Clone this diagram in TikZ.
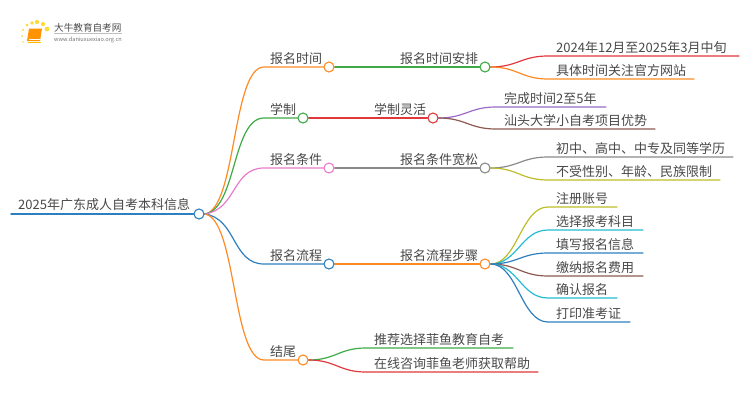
\documentclass[tikz,border=0pt]{standalone}
\usepackage{fontspec}
\usetikzlibrary{backgrounds}
\setmainfont{Noto Sans CJK SC}
\definecolor{cBlue}{HTML}{2E7FBE}
\definecolor{cOrange}{HTML}{FF8A24}
\definecolor{cGreen}{HTML}{3DAA45}
\definecolor{cRed}{HTML}{E0383C}
\definecolor{cPink}{HTML}{E87BCB}
\definecolor{cPurple}{HTML}{9A6BC8}
\definecolor{cBrown}{HTML}{8C5A52}
\definecolor{cGrey}{HTML}{8A8A8A}
\definecolor{cOlive}{HTML}{BDBD2A}
\definecolor{cCyan}{HTML}{22BCD2}
\definecolor{cText}{HTML}{484848}
\tikzset{
  dotnode/.style={circle,draw=#1,fill=white,line width=1.1pt,minimum size=10pt,inner sep=0pt},
  lab/.style={anchor=base west,inner sep=0pt,text=cText,font=\fontsize{13}{13}\selectfont},
  wire/.style={draw=#1,line width=1.2pt,line cap=round},
}
\begin{document}
\begin{tikzpicture}[x=1pt,y=-1pt]
\useasboundingbox (0,0) rectangle (750,410);
% logo
\foreach \x/\y/\s in {32/23/1.9,37/22/2.1,43/24/2.1,47/29/2.4,27/25/1.5,23/30/1.2,22/36/1,23/42/.8}
  \fill[yellow!70!orange,opacity=.8] (\x,\y) circle (\s);
\fill[orange!85!yellow] (29,28.5) -- (42,28.5) -- (40,41) -- (27,41) -- cycle;
\draw[white,line width=.5pt] (29,39) -- (39.5,39);
\draw[orange!50!yellow,line width=.6pt] (27.5,42) -- (40.5,42);
\node[anchor=base west,inner sep=0pt,text=black!70,font=\fontsize{9.6}{10}\selectfont] (logot) at (54,31) {大牛教育自考网};
\draw[black!25,line width=.4pt] (54,33.5) -- (122,33.5);
\node[anchor=base west,inner sep=0pt,text=black!55,font=\fontsize{5.6}{6}\selectfont] (logou) at (54,41) {www.daniuxuexiao.org.cn};
% root
\coordinate (rs) at (11,214);
\node[dotnode=cBlue] (root) at (199,214) {};
\node[lab] (roott) at (18,209.5) {2025年广东成人自考本科信息};
% first level
\node[dotnode=cOrange] (a1) at (329,67) {};
\node[dotnode=cGreen] (a2) at (303,118) {};
\node[dotnode=cPink] (a3) at (329,168) {};
\node[dotnode=cBlue] (a4) at (329,264) {};
\node[dotnode=cOrange] (a5) at (303,360) {};
\node[lab] at (270,63.5) {报名时间};
\node[lab] at (270,114.5) {学制};
\node[lab] at (270,164.5) {报名条件};
\node[lab] at (270,260.5) {报名流程};
\node[lab] at (270,356.5) {结尾};
% second level
\node[dotnode=cGreen] (b1) at (485,67) {};
\node[dotnode=cRed] (b2) at (433,118) {};
\node[dotnode=cGrey] (b3) at (485,168) {};
\node[dotnode=cOrange] (b4) at (485,264) {};
\node[lab] at (400,63.5) {报名时间安排};
\node[lab] at (374,114.5) {学制灵活};
\node[lab] at (400,164.5) {报名条件宽松};
\node[lab] at (400,260.5) {报名流程步骤};
% knees
\coordinate (k1) at (264,67);
\coordinate (k2) at (264,118);
\coordinate (k3) at (264,168);
\coordinate (k4) at (264,264);
\coordinate (k5) at (264,360);
% leaf ends
\foreach \n/\kx/\ex/\y in {l1/548/739/56,l2/548/694/79,l3/496/606/107,l4/496/655/129,l5/548/733/157,l6/548/720/180,
  f1/548/617/207,f2/548/643/230,f3/548/643/253,f4/548/643/276,f5/548/617/298,f6/548/630/322,e1/366/513/348,e2/366/538/372}{
  \coordinate (\n k) at (\kx,\y);
  \coordinate (\n e) at (\ex,\y);
}
\begin{scope}[on background layer]
\draw[wire=cBlue,line width=1.5pt] (rs) -- (root);
\draw[wire=cOrange] (root.east) .. controls +(32,-4) and +(-32,0) .. (k1) -- (a1);
\draw[wire=cGreen] (root.east) .. controls +(32,-4) and +(-32,0) .. (k2) -- (a2);
\draw[wire=cPink] (root.east) .. controls +(32,-4) and +(-32,0) .. (k3) -- (a3);
\draw[wire=cBlue] (root.east) .. controls +(32,4) and +(-32,0) .. (k4) -- (a4);
\draw[wire=cOrange] (root.east) .. controls +(32,4) and +(-32,0) .. (k5) -- (a5);
\draw[wire=cGreen] (a1) -- (b1);
\draw[wire=cRed] (a2) -- (b2);
\draw[wire=cGrey] (a3) -- (b3);
\draw[wire=cOrange] (a4) -- (b4);
\draw[wire=cRed] (b1.east) .. controls +(27,0) and +(-27,0) .. (l1k) -- (l1e);
\draw[wire=cOrange] (b1.east) .. controls +(27,0) and +(-27,0) .. (l2k) -- (l2e);
\draw[wire=cPurple] (b2.east) .. controls +(27,0) and +(-27,0) .. (l3k) -- (l3e);
\draw[wire=cBrown] (b2.east) .. controls +(27,0) and +(-27,0) .. (l4k) -- (l4e);
\draw[wire=cGrey] (b3.east) .. controls +(27,0) and +(-27,0) .. (l5k) -- (l5e);
\draw[wire=cOlive] (b3.east) .. controls +(27,0) and +(-27,0) .. (l6k) -- (l6e);
\draw[wire=cOlive] (b4.east) .. controls +(27,0) and +(-27,0) .. (f1k) -- (f1e);
\draw[wire=cCyan] (b4.east) .. controls +(27,0) and +(-27,0) .. (f2k) -- (f2e);
\draw[wire=cBlue] (b4.east) .. controls +(27,0) and +(-27,0) .. (f3k) -- (f3e);
\draw[wire=cBrown] (b4.east) .. controls +(27,0) and +(-27,0) .. (f4k) -- (f4e);
\draw[wire=cCyan] (b4.east) .. controls +(27,0) and +(-27,0) .. (f5k) -- (f5e);
\draw[wire=cBlue] (b4.east) .. controls +(27,0) and +(-27,0) .. (f6k) -- (f6e);
\draw[wire=cGreen] (a5.east) .. controls +(27,0) and +(-27,0) .. (e1k) -- (e1e);
\draw[wire=cRed] (a5.east) .. controls +(27,0) and +(-27,0) .. (e2k) -- (e2e);
\end{scope}
% leaf labels
\node[lab] at (556,52.5) {2024年12月至2025年3月中旬};
\node[lab] at (556,75.5) {具体时间关注官方网站};
\node[lab] at (504,103.5) {完成时间2至5年};
\node[lab] at (504,125.5) {汕头大学小自考项目优势};
\node[lab] at (556,153.5) {初中、高中、中专及同等学历};
\node[lab] at (556,176.5) {不受性别、年龄、民族限制};
\node[lab] at (556,203.5) {注册账号};
\node[lab] at (556,226.5) {选择报考科目};
\node[lab] at (556,249.5) {填写报名信息};
\node[lab] at (556,272.5) {缴纳报名费用};
\node[lab] at (556,294.5) {确认报名};
\node[lab] at (556,318.5) {打印准考证};
\node[lab] at (374,344.5) {推荐选择菲鱼教育自考};
\node[lab] at (374,368.5) {在线咨询菲鱼老师获取帮助};
\end{tikzpicture}
\end{document}
